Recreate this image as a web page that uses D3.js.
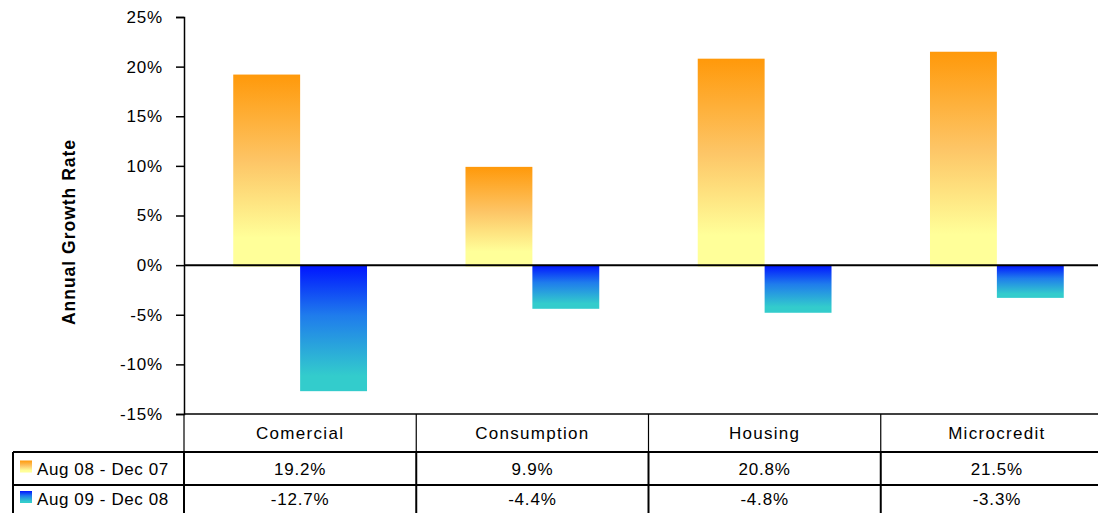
<!DOCTYPE html>
<html>
<head>
<meta charset="utf-8">
<script src="https://cdn.jsdelivr.net/npm/d3@7/dist/d3.min.js"></script>
<style>
  html, body { margin: 0; padding: 0; background: #fff; }
  svg { display: block; }
  text { font-family: "Liberation Sans", Arial, sans-serif; fill: #000; }
</style>
</head>
<body>
<svg id="chart" width="1098" height="513"></svg>
<script>
// ---- data ----
const categories = ["Comercial", "Consumption", "Housing", "Microcredit"];
const seriesNames = ["Aug 08 - Dec 07", "Aug 09 - Dec 08"];
const series1 = [19.2, 9.9, 20.8, 21.5];
const series2 = [-12.7, -4.4, -4.8, -3.3];
const yTicks = [-15, -10, -5, 0, 5, 10, 15, 20, 25];
const yLabel = "Annual Growth Rate";

// ---- layout ----
const W = 1098, H = 513;
const plotLeft = 184, plotRight = 1113, plotTop = 17, plotBottom = 414;
const headerBottom = 452, row1Bottom = 485, row2Bottom = 518;
const legendLeft = 13;

const svg = d3.select("#chart");
const defs = svg.append("defs");

const gOrange = defs.append("linearGradient").attr("id", "gOrange")
  .attr("x1", 0).attr("y1", 0).attr("x2", 0).attr("y2", 1);
gOrange.append("stop").attr("offset", "0%").attr("stop-color", "#FF990A");
gOrange.append("stop").attr("offset", "45%").attr("stop-color", "#FDC566");
gOrange.append("stop").attr("offset", "85%").attr("stop-color", "#FFFF99");
gOrange.append("stop").attr("offset", "100%").attr("stop-color", "#FFFF99");

const gBlue = defs.append("linearGradient").attr("id", "gBlue")
  .attr("x1", 0).attr("y1", 0).attr("x2", 0).attr("y2", 1);
gBlue.append("stop").attr("offset", "0%").attr("stop-color", "#0014FF");
gBlue.append("stop").attr("offset", "40%").attr("stop-color", "#1F7CEC");
gBlue.append("stop").attr("offset", "88%").attr("stop-color", "#33CCCC");
gBlue.append("stop").attr("offset", "100%").attr("stop-color", "#33CCCC");

const fills = ["url(#gOrange)", "url(#gBlue)"];

const y = d3.scaleLinear().domain([-15, 25]).range([plotBottom, plotTop]);
const x = d3.scaleBand().domain(categories).range([plotLeft, plotRight]).padding(0);
const barW = x.bandwidth() * 0.288;

// ---- bars ----
const allSeries = [series1, series2];
allSeries.forEach((vals, si) => {
  svg.append("g").selectAll("rect")
    .data(vals.map((v, i) => ({ v, c: categories[i] })))
    .join("rect")
    .attr("x", d => x(d.c) + x.bandwidth() / 2 - barW + si * barW)
    .attr("width", barW)
    .attr("y", d => d.v >= 0 ? y(d.v) : y(0))
    .attr("height", d => Math.abs(y(d.v) - y(0)) + (d.v >= 0 ? 1.5 : 0))
    .attr("fill", fills[si]);
});

// ---- zero line ----
svg.append("line")
  .attr("x1", plotLeft).attr("x2", W)
  .attr("y1", y(0)).attr("y2", y(0))
  .attr("stroke", "#000").attr("stroke-width", 2);

// ---- y axis ----
const yAxis = d3.axisLeft(y).tickValues(yTicks).tickSize(8).tickPadding(13)
  .tickFormat(d => String(d) + "%");
const yg = svg.append("g").attr("transform", `translate(${plotLeft},0)`).call(yAxis);
yg.select(".domain").attr("stroke", "#000").attr("stroke-width", 1.5);
yg.selectAll(".tick line").attr("stroke", "#000").attr("stroke-width", 1.5);
yg.selectAll(".tick text")
  .style("font-family", "'Liberation Sans', Arial, sans-serif")
  .style("font-size", "17px").style("letter-spacing", "0.8px")
  .attr("fill", "#000");

svg.append("text")
  .attr("transform", `translate(75,232) rotate(-90)`)
  .attr("text-anchor", "middle")
  .style("font-size", "17.5px").style("font-weight", "bold")
  .style("letter-spacing", "1px")
  .text(yLabel);

// ---- data table ----
const tbl = svg.append("g");
const line = (x1, y1, x2, y2, w) => tbl.append("line")
  .attr("x1", x1).attr("y1", y1).attr("x2", x2).attr("y2", y2)
  .attr("stroke", "#000").attr("stroke-width", w);

// header top border (plot bottom)
line(plotLeft, plotBottom, W, plotBottom, 1.5);
// header column dividers
categories.forEach((c) => {
  line(x(c), plotBottom, x(c), headerBottom, 1.2);
});
// row borders
line(legendLeft, headerBottom, W, headerBottom, 2);
line(legendLeft, row1Bottom, W, row1Bottom, 2);
line(legendLeft, row2Bottom, W, row2Bottom, 2);
line(legendLeft, headerBottom, legendLeft, row2Bottom, 2);
categories.forEach((c) => {
  line(x(c), headerBottom, x(c), row2Bottom, 2);
});

// header labels
tbl.selectAll("text.cat").data(categories).join("text")
  .attr("class", "cat")
  .attr("x", d => x(d) + x.bandwidth() / 2)
  .attr("y", (plotBottom + headerBottom) / 2 + 6)
  .attr("text-anchor", "middle")
  .style("font-size", "17px").style("letter-spacing", "1.3px")
  .text(d => d);

const fmt = v => v.toFixed(1) + "%";
const rowTops = [headerBottom, row1Bottom];
const rowBots = [row1Bottom, row2Bottom - 5];
allSeries.forEach((vals, si) => {
  const cy = (rowTops[si] + rowBots[si]) / 2 + 6;
  tbl.append("g").selectAll("text").data(vals.map((v, i) => ({ v, c: categories[i] })))
    .join("text")
    .attr("x", d => x(d.c) + x.bandwidth() / 2)
    .attr("y", cy)
    .attr("text-anchor", "middle")
    .style("font-size", "17px").style("letter-spacing", "0.8px")
    .text(d => fmt(d.v));
  // legend key + name
  tbl.append("rect")
    .attr("x", 20).attr("y", cy - 14).attr("width", 12).attr("height", 12)
    .attr("fill", fills[si]);
  tbl.append("text")
    .attr("x", 37).attr("y", cy)
    .style("font-size", "17px").style("letter-spacing", "0.6px")
    .text(seriesNames[si]);
});
</script>
</body>
</html>
